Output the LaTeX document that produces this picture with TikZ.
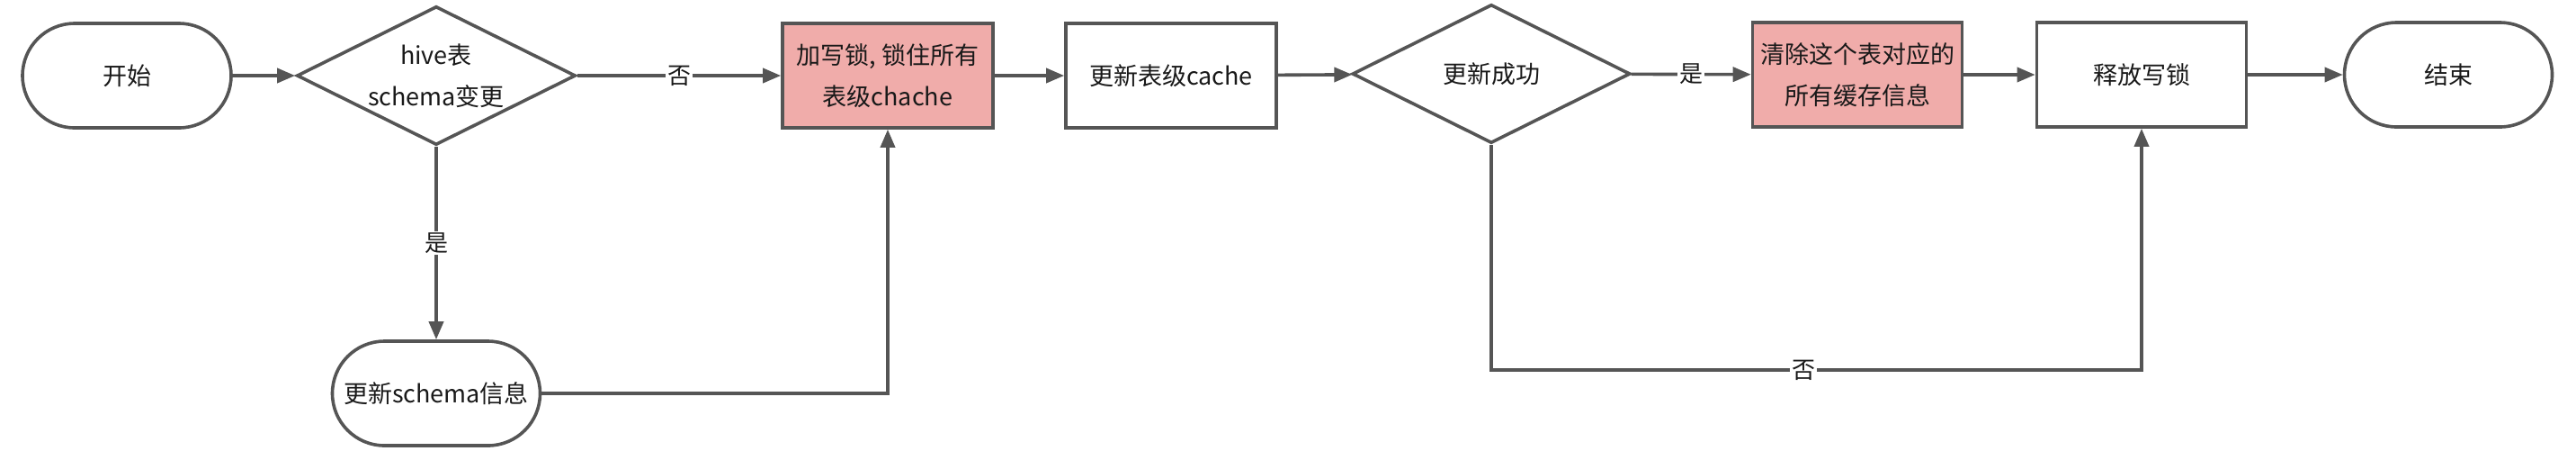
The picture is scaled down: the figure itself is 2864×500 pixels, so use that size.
\documentclass[tikz,border=0pt]{standalone}
\usepackage{fontspec}
\setmainfont{Noto Sans CJK SC}
\usetikzlibrary{positioning,arrows.meta,shapes.geometric}
\definecolor{linegray}{HTML}{555555}
\definecolor{lockpink}{HTML}{F0ACAA}

\begin{document}
\begin{tikzpicture}[x=0.5pt,y=-0.5pt,
  every node/.style={font=\fontsize{13.5}{23}\selectfont, text=black!90},
  flow/.style={draw=linegray, line width=1.8pt},
  terminal/.style={flow, rectangle, rounded corners=29pt, minimum width=116pt, minimum height=58pt, inner sep=0pt},
  process/.style={flow, rectangle, minimum width=117pt, minimum height=58pt, inner sep=0pt, align=center},
  locked/.style={process, fill=lockpink},
  decision/.style={flow, diamond, shape aspect=2, minimum width=155pt, minimum height=77pt, inner sep=0pt, align=center},
  arrow/.style={line width=1.8pt, draw=linegray, -{Triangle[length=10pt,width=8pt]}},
  answer/.style={fill=white, inner sep=1pt, font=\fontsize{13}{15}\selectfont}]
  \useasboundingbox (0,0) rectangle (2864,500);

  % top row
  \node[terminal] (start) at (141,84) {开始};
  \node[decision] (dec1) at (485,84) {hive表\\schema变更};
  \node[locked] (lock) at (987,84) {加写锁, 锁住所有\\表级chache};
  \node[process] (upd) at (1302,84) {更新表级cache};
  \node[decision, minimum width=154.5pt] (dec2) at (1658,82) {更新成功};
  \node[locked, minimum width=116.5pt] (clear) at (2065,83) {清除这个表对应的\\所有缓存信息};
  \node[process, minimum width=116.5pt] (release) at (2381,83) {释放写锁};
  \node[terminal, minimum width=115.5pt] (end) at (2722,83) {结束};

  % lower branch
  \node[terminal, minimum width=115.5pt] (schema) at (485,437) {更新schema信息};
  \coordinate (loop) at (1658,411);

  \draw[arrow] (start) -- (dec1);
  \draw[arrow] (dec1) -- node[answer]{否} (lock);
  \draw[arrow] (dec1) -- node[answer]{是} (schema);
  \draw[arrow] (schema) -| (lock);
  \draw[arrow] (lock) -- (upd);
  \draw[arrow] (upd) -- (dec2);
  \draw[arrow] (dec2) -- node[answer]{是} (clear);
  \draw[arrow] (dec2) -- (loop) -| node[answer, pos=0.24]{否} (release);
  \draw[arrow] (clear) -- (release);
  \draw[arrow] (release) -- (end);
\end{tikzpicture}
\end{document}
